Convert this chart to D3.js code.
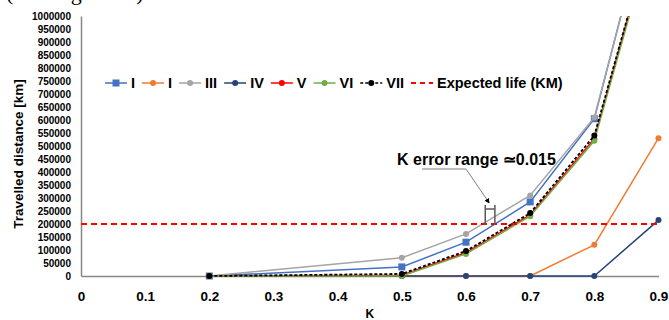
<!DOCTYPE html>
<html><head><meta charset="utf-8">
<script src="https://cdn.jsdelivr.net/npm/d3@7"></script>
<style>
body{margin:0;background:#fff;}
svg{display:block;font-family:"Liberation Sans",Arial,sans-serif;}
</style></head>
<body><svg id="c" width="669" height="320"></svg>
<script>
// ---- data ----
const kValues = [0.2, 0.5, 0.6, 0.7, 0.8, 0.9];
const seriesNames = ["I", "I", "III", "IV", "V", "VI", "VII"];
const sI   = [0, 35000, 130000, 285000, 605000, 1560000];
const sII  = [0, 0, 0, 0, 120000, 530000];
const sIII = [0, 70000, 162000, 310000, 610000, 1550000];
const sIV  = [0, 0, 0, 0, 0, 215000];
const sV   = [0, 3000, 90000, 235000, 528000, 1420000];
const sVI  = [0, 0, 85000, 230000, 520000, 1400000];
const sVII = [0, 8000, 96000, 242000, 540000, 1420000];
const expectedLife = 200000;
const expectedLabel = "Expected life (KM)";
const xTicks = [0, 0.1, 0.2, 0.3, 0.4, 0.5, 0.6, 0.7, 0.8, 0.9];
const yTicks = d3.range(0, 1000001, 50000);
const annotationText = "K error range \u22430.015";
const annotationK = [0.63, 0.645];

const colors = ["#4472C4", "#ED7D31", "#A5A5A5", "#264478", "#FF0000", "#70AD47", "#000000"];
const markers = ["square", "circle", "circle", "circle", "circle", "circle", "circle"];
const allSeries = [sI, sII, sIII, sIV, sV, sVI, sVII];

const svg = d3.select("#c");
const x = d3.scaleLinear().domain([0, 0.9]).range([81, 658.5]);
const y = d3.scaleLinear().domain([0, 1000000]).range([276, 16]);

// caption fragment at the very top (cut off in the reference as well)
svg.append("text").attr("x", 6).attr("y", 0)
  .style("font-family", "'Liberation Serif','Times New Roman',serif").style("font-size", "22px")
  .text("(Driving mode)");

// clip
svg.append("defs").append("clipPath").attr("id", "pc")
  .append("rect").attr("x", 60).attr("y", 16).attr("width", 620).attr("height", 264);

// axes
const gx = svg.append("g").attr("transform", `translate(0,${y(0)})`)
  .call(d3.axisBottom(x).tickValues(xTicks).tickSize(0).tickPadding(15)
    .tickFormat(d => d === 0 ? "0" : d3.format(".1f")(d)));
gx.select(".domain").attr("stroke", "#868686").attr("stroke-width", 1.5);
gx.selectAll("text").style("font-size", "13.5px").style("font-weight", "bold").attr("fill", "#000");

const gy = svg.append("g").attr("transform", `translate(${x(0)},0)`)
  .call(d3.axisLeft(y).tickValues(yTicks).tickSize(0).tickPadding(10).tickFormat(d3.format("d")));
gy.select(".domain").attr("stroke", "#868686").attr("stroke-width", 1.5);
gy.selectAll("text").style("font-size", "10px").style("font-weight", "bold").attr("fill", "#000");

// axis titles
svg.append("text").attr("x", (x(0) + x(0.9)) / 2).attr("y", 318).attr("text-anchor", "middle")
  .style("font-size", "12px").style("font-weight", "bold").text("K");
svg.append("text").attr("transform", `translate(23,${(y(0)+y(1000000))/2 + 8}) rotate(-90)`)
  .attr("text-anchor", "middle").style("font-size", "13.5px").style("font-weight", "bold")
  .text("Travelled distance [km]");

// series
const plot = svg.append("g").attr("clip-path", "url(#pc)");
const line = d3.line().x(d => x(d[0])).y(d => y(d[1]));
allSeries.forEach((vals, i) => {
  const pts = kValues.map((k, j) => [k, vals[j]]);
  const p = plot.append("path").datum(pts).attr("d", line).attr("fill", "none")
    .attr("stroke", colors[i]).attr("stroke-width", 1.5);
  if (i === 6) p.attr("stroke-dasharray", "3,2").attr("stroke-width", 1.8);
  pts.forEach(pt => {
    if (markers[i] === "square") {
      plot.append("rect").attr("x", x(pt[0]) - 3.5).attr("y", y(pt[1]) - 3.5)
        .attr("width", 7).attr("height", 7).attr("fill", colors[i]);
    } else {
      plot.append("circle").attr("cx", x(pt[0])).attr("cy", y(pt[1])).attr("r", 3)
        .attr("fill", colors[i]);
    }
  });
});

// expected life
plot.append("line").attr("x1", x(0)).attr("x2", x(0.9)).attr("y1", y(expectedLife)).attr("y2", y(expectedLife))
  .attr("stroke", "#FF0000").attr("stroke-width", 2).attr("stroke-dasharray", "6,4");

// annotation
const bx1 = x(annotationK[0]), bx2 = x(annotationK[1]);
const by = y(expectedLife);
const ann = svg.append("g").attr("stroke", "#595959").attr("stroke-width", 1.5).attr("fill", "none");
ann.append("line").attr("x1", bx1).attr("x2", bx1).attr("y1", by - 19).attr("y2", by + 1);
ann.append("line").attr("x1", bx2).attr("x2", bx2).attr("y1", by - 19).attr("y2", by + 1);
ann.append("line").attr("x1", bx1).attr("x2", bx2).attr("y1", by - 15).attr("y2", by - 15);
svg.append("defs").append("marker").attr("id", "arr").attr("viewBox", "0 0 10 10")
  .attr("refX", 9).attr("refY", 5).attr("markerWidth", 5).attr("markerHeight", 5).attr("orient", "auto")
  .append("path").attr("d", "M0,0L10,5L0,10z").attr("fill", "#000");
svg.append("path").attr("d", `M422,169L466,169L${bx1 + 4},${by - 21}`)
  .attr("fill", "none").attr("stroke", "#7f7f7f").attr("stroke-width", 1)
  .attr("marker-end", "url(#arr)");
const at = svg.append("text").attr("x", 397).attr("y", 165).style("font-size", "16px").style("font-weight", "bold")
  .text(annotationText);
{
  const w = at.node().getComputedTextLength();
  const n = annotationText.length;
  const ls = Math.max(0, (145 - w) / (n - 1));
  at.style("letter-spacing", ls + "px");
}

// legend
const leg = svg.append("g");
let lx = 105;
const ly = 83;
const legendItems = seriesNames.map((n, i) => ({name: n, color: colors[i], marker: markers[i], dash: i === 6 ? "3,2" : null}))
  .concat([{name: expectedLabel, color: "#FF0000", marker: null, dash: "5,4"}]);
legendItems.forEach(it => {
  leg.append("line").attr("x1", lx).attr("x2", lx + 22).attr("y1", ly).attr("y2", ly)
    .attr("stroke", it.color).attr("stroke-width", it.marker ? 1.5 : 2).attr("stroke-dasharray", it.dash);
  if (it.marker === "square") {
    leg.append("rect").attr("x", lx + 11 - 3.5).attr("y", ly - 3.5).attr("width", 7).attr("height", 7).attr("fill", it.color);
  } else if (it.marker === "circle") {
    leg.append("circle").attr("cx", lx + 11).attr("cy", ly).attr("r", 3).attr("fill", it.color);
  }
  const t = leg.append("text").attr("x", lx + 26).attr("y", ly + 5).style("font-size", "14.5px")
    .style("font-weight", "bold").text(it.name);
  lx += 26 + t.node().getComputedTextLength() + 7;
});
</script></body></html>
